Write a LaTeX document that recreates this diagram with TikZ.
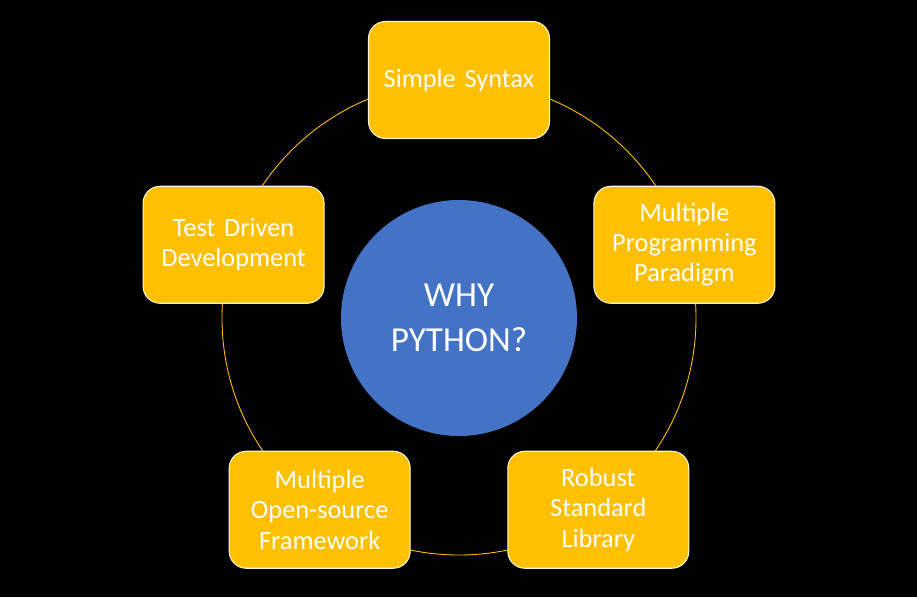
\documentclass[tikz,border=0pt]{standalone}
\usepackage{fontspec}
\setmainfont{Carlito}
\definecolor{pygold}{HTML}{FFC000}
\definecolor{pyblue}{HTML}{4472C4}

\begin{document}
\begin{tikzpicture}[
		box/.style={draw=white!85!pygold,line width=0.6pt,fill=pygold,rounded corners=0.34cm,
			minimum width=3.62cm,minimum height=2.34cm,text width=3.3cm,align=center,
			text=white,font=\fontsize{15}{17.2}\selectfont},
		hub/.style={circle,fill=pyblue,minimum size=4.72cm,align=center,
			text=white,font=\fontsize{20}{25.5}\selectfont},
		ring/.style={draw=pygold,line width=0.5pt}]
		\fill[black] (-9.18,-5.58) rectangle (9.16,6.36);
		\useasboundingbox (-9.18,-5.58) rectangle (9.16,6.36);
		\node[hub] (why) at (0,0) {WHY\\PYTHON?};
		\draw[ring] (why.center) circle (4.74);
		\node[box] (syntax) at (90:4.76) {Simple Syntax};
		\node[box] (paradigm) at (18:4.74) {Multiple\\Programming\\Paradigm};
		\node[box] (library) at (-54:4.74) {Robust\\Standard\\Library};
		\node[box] (framework) at (-126:4.74) {Multiple\\Open-source\\Framework};
		\node[box] (testing) at (162:4.74) {Test Driven\\Development};
	\end{tikzpicture}
\end{document}
